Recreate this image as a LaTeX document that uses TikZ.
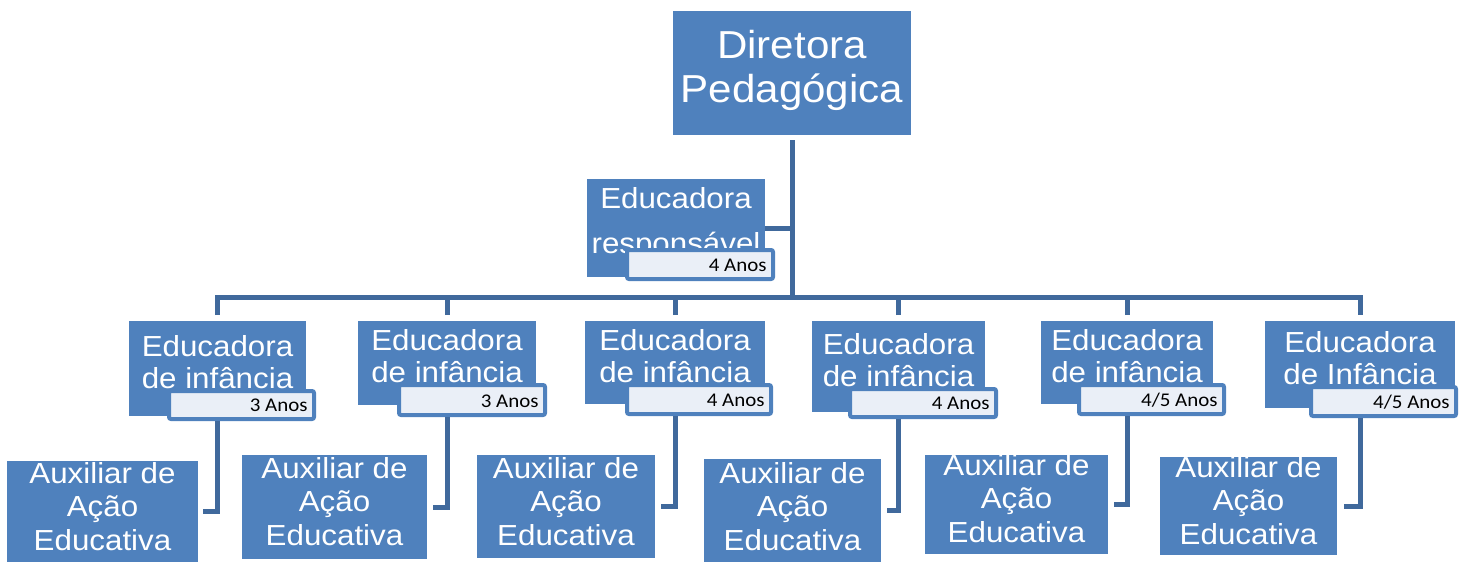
\documentclass[tikz,border=0pt]{standalone}
\usepackage{fontspec}
\setmainfont{Liberation Sans}[FakeStretch=1.08]
\newfontfamily\calib{Carlito}[FakeStretch=1.08]
\definecolor{boxblue}{HTML}{4F81BD}
\definecolor{connblue}{HTML}{40699C}
\definecolor{lblfill}{HTML}{EAEFF7}
\tikzset{
  box/.style={fill=boxblue, inner sep=0pt, outer sep=0pt, anchor=north west},
  txt/.style={text=white, inner sep=0pt, anchor=north, align=center},
  bigfont/.style={font=\fontsize{19.5}{22}\selectfont},
  erfont/.style={font=\fontsize{14.5}{22.5}\selectfont},
  midfont/.style={font=\fontsize{14.5}{16}\selectfont},
  auxfont/.style={font=\fontsize{14.5}{16.75}\selectfont},
  lbl/.style={draw=boxblue, line width=2pt, fill=lblfill, rounded corners=1pt, inner sep=0pt},
  lbltxt/.style={font=\calib\fontsize{9.7}{11}\selectfont, text=black, inner sep=0pt, anchor=base east},
  conn/.style={draw=connblue, line width=2.5pt},
}
\begin{document}
\begin{tikzpicture}[x=0.5pt,y=-0.5pt]
\useasboundingbox (0,0) rectangle (1470,562);

% boxes
\node[box, minimum width=119pt, minimum height=62pt] (dp) at (673,11) {};
\node[box, minimum width=89pt, minimum height=49pt] (er) at (587,179) {};
\node[box, minimum width=88.5pt, minimum height=47.5pt] (b1) at (129,321) {};
\node[box, minimum width=89pt, minimum height=42pt] (b2) at (358,321) {};
\node[box, minimum width=90pt, minimum height=41.5pt] (b3) at (585,321) {};
\node[box, minimum width=86.5pt, minimum height=45.5pt] (b4) at (812,321) {};
\node[box, minimum width=86pt, minimum height=41.5pt] (b5) at (1041,321) {};
\node[box, minimum width=95pt, minimum height=43.5pt] (b6) at (1265,321) {};
\node[box, minimum width=95.5pt, minimum height=50.5pt] (a1) at (7,461) {};
\node[box, minimum width=92.5pt, minimum height=52pt] (a2) at (242,455) {};
\node[box, minimum width=89pt, minimum height=51.5pt] (a3) at (477,455) {};
\node[box, minimum width=88.5pt, minimum height=51.5pt] (a4) at (704,459) {};
\node[box, minimum width=91.5pt, minimum height=49.5pt] (a5) at (925,455) {};
\node[box, minimum width=88.5pt, minimum height=49pt] (a6) at (1160,457) {};

% texts
\node[txt, bigfont] (tdp) at (792,30) {Diretora\\Pedagógica};
\node[txt, erfont] (ter) at (676,187) {Educadora\\responsável};
\node[txt, midfont] (tb1) at (217.5,335) {Educadora\\de infância};
\node[txt, midfont] (tb2) at (447,329) {Educadora\\de infância};
\node[txt, midfont] (tb3) at (675,329) {Educadora\\de infância};
\node[txt, midfont] (tb4) at (898.5,333) {Educadora\\de infância};
\node[txt, midfont] (tb5) at (1127,329) {Educadora\\de infância};
\node[txt, midfont] (tb6) at (1360,331) {Educadora\\de Infância};
\node[txt, auxfont] (ta1) at (102.5,462) {Auxiliar de\\Ação\\Educativa};
\node[txt, auxfont] (ta2) at (334.5,457) {Auxiliar de\\Ação\\Educativa};
\node[txt, auxfont] (ta3) at (566,457) {Auxiliar de\\Ação\\Educativa};
\node[txt, auxfont] (ta4) at (792.5,462) {Auxiliar de\\Ação\\Educativa};
\node[txt, auxfont] (ta5) at (1016.5,454) {Auxiliar de\\Ação\\Educativa};
\node[txt, auxfont] (ta6) at (1248.5,456) {Auxiliar de\\Ação\\Educativa};

% age labels
\node[lbl, minimum width=73pt, minimum height=14.5pt] (ler) at (700,264.5) {};
\node[lbl, minimum width=72.5pt, minimum height=14pt] (l1) at (241.5,405) {};
\node[lbl, minimum width=73pt, minimum height=15pt] (l2) at (472,400) {};
\node[lbl, minimum width=72pt, minimum height=14.5pt] (l3) at (699,399.5) {};
\node[lbl, minimum width=73pt, minimum height=14pt] (l4) at (923,403) {};
\node[lbl, minimum width=72.5pt, minimum height=14.5pt] (l5) at (1151.5,399.5) {};
\node[lbl, minimum width=72.5pt, minimum height=14.5pt] (l6) at (1383.5,401.5) {};
\node[lbltxt] (tler) at (767,271) {4 Anos};
\node[lbltxt] (tl1) at (308,411) {3 Anos};
\node[lbltxt] (tl2) at (539,407) {3 Anos};
\node[lbltxt] (tl3) at (765,406) {4 Anos};
\node[lbltxt] (tl4) at (990,409) {4 Anos};
\node[lbltxt] (tl5) at (1218,406) {4/5 Anos};
\node[lbltxt] (tl6) at (1450,408) {4/5 Anos};

% connectors
\coordinate (busy) at (0,297);
\draw[conn] ([yshift=-2.5pt]dp.south) -- (dp.south |- busy);
\draw[conn] (er.east) -- (er.east -| dp.south);
\draw[conn] ([yshift=3pt]b1.north) -- (b1.north |- busy) -- (b6.north |- busy) -- ([yshift=3pt]b6.north);
\draw[conn] ([yshift=3pt]b2.north) -- (b2.north |- busy);
\draw[conn] ([yshift=3pt]b3.north) -- (b3.north |- busy);
\draw[conn] ([yshift=3pt]b4.north) -- (b4.north |- busy);
\draw[conn] ([yshift=3pt]b5.north) -- (b5.north |- busy);
\draw[conn] (b1.center |- l1.south) |- ([xshift=2.5pt]a1.east);
\draw[conn] (b2.center |- l2.south) |- ([xshift=3pt]a2.east);
\draw[conn] (b3.center |- l3.south) |- ([xshift=3pt]a3.east);
\draw[conn] (b4.center |- l4.south) |- ([xshift=3pt]a4.east);
\draw[conn] (b5.center |- l5.south) |- ([xshift=3pt]a5.east);
\draw[conn] (b6.center |- l6.south) |- ([xshift=3.5pt]a6.east);
\end{tikzpicture}
\end{document}
